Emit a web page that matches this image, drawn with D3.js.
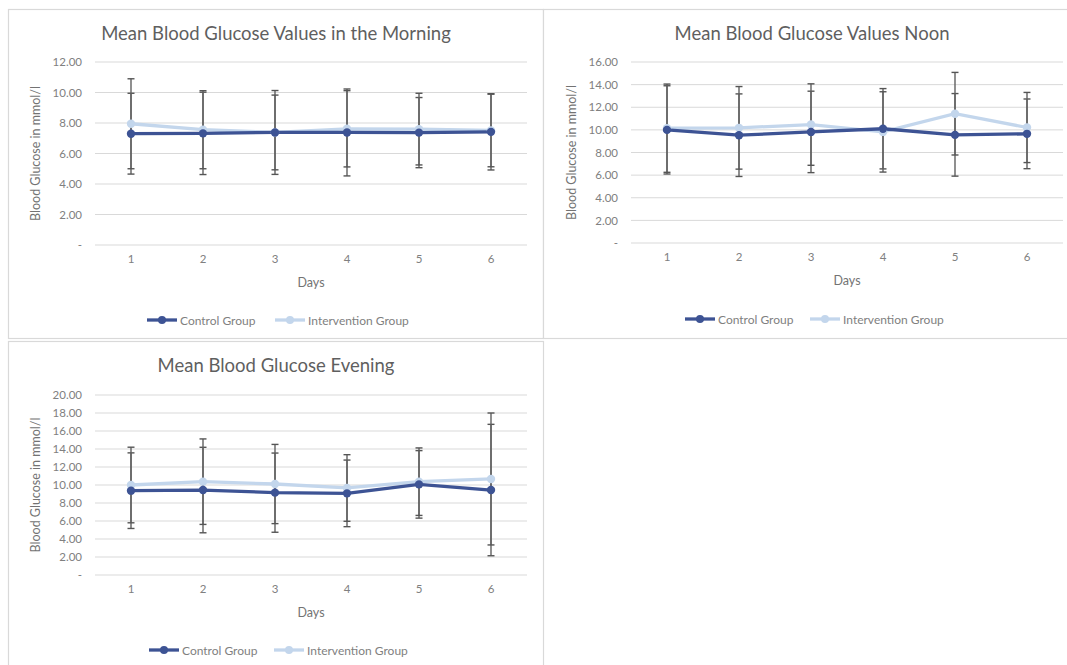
<!DOCTYPE html>
<html>
<head>
<meta charset="utf-8">
<script src="https://cdn.jsdelivr.net/npm/d3@7"></script>
<style>
  html, body { margin: 0; padding: 0; background: #ffffff; }
  svg { display: block; }
  text { font-family: Lato, "Open Sans", sans-serif; }
</style>
</head>
<body>
<svg id="chart" width="1067" height="665"></svg>
<script>
// Days on the x axis
const days = [1, 2, 3, 4, 5, 6];

// Morning: means and standard deviations (mmol/l)
const morningControl = [7.30, 7.32, 7.38, 7.38, 7.37, 7.42];
const morningControlSD = [2.65, 2.70, 2.75, 2.85, 2.30, 2.50];
const morningIntervention = [7.95, 7.56, 7.38, 7.62, 7.60, 7.51];
const morningInterventionSD = [2.95, 2.56, 2.45, 2.50, 2.35, 2.38];

// Noon
const noonControl = [10.00, 9.53, 9.82, 10.10, 9.56, 9.65];
const noonControlSD = [3.90, 3.65, 3.60, 3.55, 3.65, 3.08];
const noonIntervention = [10.15, 10.18, 10.47, 9.82, 11.43, 10.21];
const noonInterventionSD = [3.90, 3.65, 3.60, 3.55, 3.65, 3.10];

// Evening
const eveningControl = [9.37, 9.44, 9.15, 9.07, 10.07, 9.44];
const eveningControlSD = [4.20, 4.75, 4.40, 3.70, 3.75, 7.30];
const eveningIntervention = [10.00, 10.37, 10.11, 9.67, 10.37, 10.67];
const eveningInterventionSD = [4.20, 4.75, 4.40, 3.70, 3.75, 7.33];

// Tick values per panel
const morningTicks = [0, 2, 4, 6, 8, 10, 12];
const noonTicks = [0, 2, 4, 6, 8, 10, 12, 14, 16];
const eveningTicks = [0, 2, 4, 6, 8, 10, 12, 14, 16, 18, 20];

const seriesNames = ["Control Group", "Intervention Group"];
const seriesColors = ["#3d5394", "#c3d6ec"];

const svg = d3.select("#chart");

const fmt = v => v === 0 ? "-" : d3.format(".2f")(v);

function drawPanel(p) {
  const g = svg.append("g");

  // chart frame
  g.append("rect")
    .attr("x", p.box[0] + 0.5).attr("y", p.box[1] + 0.5)
    .attr("width", p.box[2]).attr("height", p.box[3])
    .attr("fill", "#ffffff").attr("stroke", "#d9d9d9").attr("stroke-width", 1.2);

  const x = d3.scaleBand().domain(days).range([p.plot.left, p.plot.right]);
  const y = d3.scaleLinear().domain([0, p.ticks[p.ticks.length - 1]])
    .range([p.plot.bottom, p.plot.top]);

  // horizontal gridlines
  g.append("g").selectAll("line").data(p.ticks).join("line")
    .attr("x1", p.plot.left).attr("x2", p.plot.right)
    .attr("y1", d => y(d)).attr("y2", d => y(d))
    .attr("stroke", "#d9d9d9").attr("stroke-width", 1);

  // y axis labels
  const yAxis = d3.axisLeft(y).tickValues(p.ticks).tickFormat(fmt).tickSize(0).tickPadding(0);
  const ya = g.append("g").attr("transform", `translate(${p.plot.left - 13},0)`).call(yAxis);
  ya.select(".domain").remove();
  ya.selectAll("text").attr("fill", "#808080").style("font-size", "11.5px")
    .style("font-family", "Lato, 'Open Sans', sans-serif");

  // x axis labels
  const xAxis = d3.axisBottom(x).tickSize(0).tickPadding(0);
  const xa = g.append("g").attr("transform", `translate(0,${p.plot.bottom + 10})`).call(xAxis);
  xa.select(".domain").remove();
  xa.selectAll("text").attr("fill", "#808080").style("font-size", "11.5px")
    .style("font-family", "Lato, 'Open Sans', sans-serif");

  // titles
  g.append("text").attr("x", p.titleX).attr("y", p.titleY)
    .attr("text-anchor", "middle").attr("fill", "#5f5f5f")
    .style("font-size", "18.5px").text(p.title);
  g.append("text").attr("x", (p.plot.left + p.plot.right) / 2).attr("y", p.plot.bottom + 42)
    .attr("text-anchor", "middle").attr("fill", "#737373")
    .style("font-size", "12.5px").text("Days");
  g.append("text")
    .attr("transform", `translate(${p.yTitleX},${(p.plot.top + p.plot.bottom) / 2}) rotate(-90)`)
    .attr("text-anchor", "middle").attr("fill", "#737373")
    .style("font-size", "12.5px").text("Blood Glucose in mmol/l");

  const cx = d => x(d) + x.bandwidth() / 2;
  const series = [
    { mean: p.control, sd: p.controlSD, color: seriesColors[0] },
    { mean: p.intervention, sd: p.interventionSD, color: seriesColors[1] }
  ];

  // error bars
  series.forEach(s => {
    const eb = g.append("g");
    days.forEach((d, i) => {
      const hi = y(s.mean[i] + s.sd[i]);
      const lo = y(Math.max(0, s.mean[i] - s.sd[i]));
      eb.append("line").attr("x1", cx(d)).attr("x2", cx(d)).attr("y1", hi).attr("y2", lo)
        .attr("stroke", "#606060").attr("stroke-width", 1.4);
      [hi, lo].forEach(yy => {
        eb.append("line").attr("x1", cx(d) - 3.5).attr("x2", cx(d) + 3.5)
          .attr("y1", yy).attr("y2", yy)
          .attr("stroke", "#555555").attr("stroke-width", 1.4);
      });
    });
  });

  // lines and markers (intervention drawn on top)
  series.slice().reverse().forEach(s => {
    const line = d3.line().x((d, i) => cx(days[i])).y(d => y(d));
    g.append("path").datum(s.mean).attr("d", line)
      .attr("fill", "none").attr("stroke", s.color).attr("stroke-width", 3.3);
  });
  series.slice().reverse().forEach(s => {
    g.append("g").selectAll("circle").data(s.mean).join("circle")
      .attr("cx", (d, i) => cx(days[i])).attr("cy", d => y(d)).attr("r", 4.2)
      .attr("fill", s.color);
  });

  // legend
  const lg = g.append("g").attr("transform", `translate(0,${p.legendY})`);
  p.legendX.forEach((lx, i) => {
    lg.append("line").attr("x1", lx).attr("x2", lx + 30).attr("y1", 0).attr("y2", 0)
      .attr("stroke", seriesColors[i]).attr("stroke-width", 3.3);
    lg.append("circle").attr("cx", lx + 15).attr("cy", 0).attr("r", 4).attr("fill", seriesColors[i]);
    lg.append("text").attr("x", lx + 33).attr("y", 4.5).attr("fill", "#7f7f7f")
      .style("font-size", "12px").text(seriesNames[i]);
  });
}

drawPanel({
  title: "Mean Blood Glucose Values in the Morning",
  box: [8, 9, 535, 329],
  plot: { left: 95, right: 527, top: 62, bottom: 245 },
  ticks: morningTicks, titleX: 276, titleY: 40, yTitleX: 40,
  legendY: 320, legendX: [147, 275],
  control: morningControl, controlSD: morningControlSD,
  intervention: morningIntervention, interventionSD: morningInterventionSD
});

drawPanel({
  title: "Mean Blood Glucose Values Noon",
  box: [543, 9, 530, 329],
  plot: { left: 631, right: 1063, top: 62, bottom: 243 },
  ticks: noonTicks, titleX: 812, titleY: 40, yTitleX: 576,
  legendY: 319, legendX: [685, 810],
  control: noonControl, controlSD: noonControlSD,
  intervention: noonIntervention, interventionSD: noonInterventionSD
});

drawPanel({
  title: "Mean Blood Glucose Evening",
  box: [8, 341, 535, 340],
  plot: { left: 95, right: 527, top: 395, bottom: 575 },
  ticks: eveningTicks, titleX: 276, titleY: 372, yTitleX: 40,
  legendY: 650, legendX: [149, 274],
  control: eveningControl, controlSD: eveningControlSD,
  intervention: eveningIntervention, interventionSD: eveningInterventionSD
});
</script>
</body>
</html>
